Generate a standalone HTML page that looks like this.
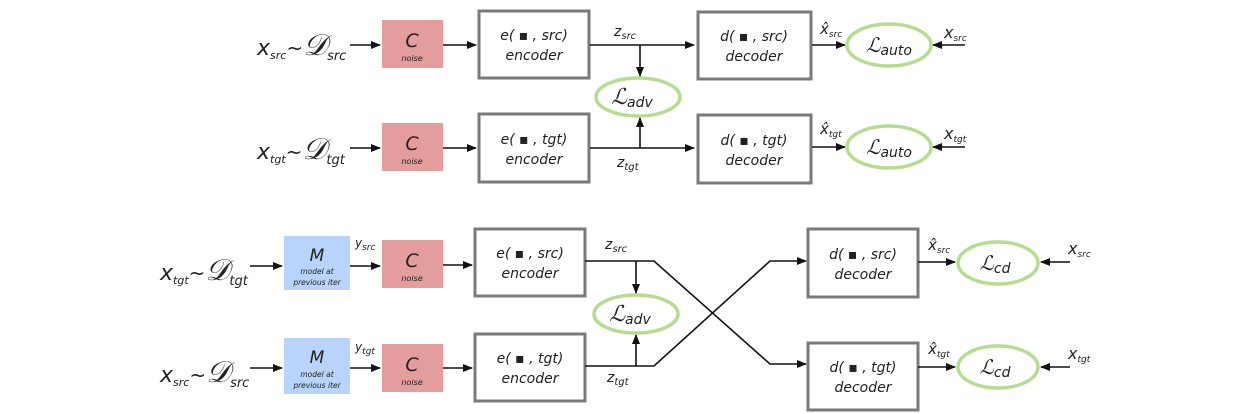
<!DOCTYPE html>
<html><head><meta charset="utf-8"><style>
body{margin:0;background:#fff}
svg{display:block;font-family:"DejaVu Sans","Liberation Sans",sans-serif}
.box{fill:#fff;stroke:#7a7a7a;stroke-width:3}
.cb{fill:#e49d9d}
.mb{fill:#b9d4fb}
.ell{fill:#fff;stroke:#b6dd8f;stroke-width:3.5}
.ln{stroke:#111;stroke-width:1.6;fill:none}
.t{font-style:italic;fill:#222}
</style></head><body>
<svg width="1250" height="414" viewBox="0 0 1250 414">
<defs><marker id="a" markerWidth="10" markerHeight="8" refX="9" refY="4" orient="auto" markerUnits="userSpaceOnUse"><path d="M0,0L10,4L0,8z" fill="#111"/></marker></defs>

<!-- TOP ROW 1 -->
<g>
<text x="257" y="55" font-size="22" class="t" font-style="normal">x<tspan font-size="11" dy="4">src</tspan><tspan dy="-4" font-size="20">~</tspan><tspan font-family="Liberation Serif" font-size="30">𝒟</tspan><tspan font-size="13" dy="5">src</tspan></text>
<line class="ln" x1="350" y1="45" x2="380" y2="45" marker-end="url(#a)"/>
<rect class="cb" x="382" y="20" width="61" height="48"/>
<text x="412" y="47" font-size="19" text-anchor="middle" class="t">C</text><text x="412" y="61" font-size="8" text-anchor="middle" class="t">noise</text>
<line class="ln" x1="443" y1="45" x2="476" y2="45" marker-end="url(#a)"/>
<rect class="box" x="479" y="11" width="110" height="67"/>
<text x="534" y="40" font-size="14" text-anchor="middle" class="t">e( ▪ , src)</text><text x="534" y="60" font-size="14" text-anchor="middle" class="t">encoder</text>
<line class="ln" x1="590" y1="45" x2="694" y2="45" marker-end="url(#a)"/>
<text x="614" y="36" font-size="14" class="t">z<tspan font-size="10" dy="3">src</tspan></text>
<rect class="box" x="698" y="12" width="113" height="67"/>
<text x="754" y="41" font-size="14" text-anchor="middle" class="t">d( ▪ , src)</text><text x="754" y="61" font-size="14" text-anchor="middle" class="t">decoder</text>
<line class="ln" x1="812" y1="45" x2="845" y2="45" marker-end="url(#a)"/>
<text x="820" y="34" font-size="15" class="t">x̂<tspan font-size="9" dy="3">src</tspan></text>
<ellipse class="ell" cx="889" cy="45" rx="42" ry="21"/>
<text x="889" y="52" font-size="20" text-anchor="middle" class="t" font-family="Liberation Serif">ℒ<tspan font-family="DejaVu Sans" font-size="14" dy="3">auto</tspan></text>
<line class="ln" x1="965" y1="45" x2="933" y2="45" marker-end="url(#a)"/>
<text x="944" y="38" font-size="16" class="t" font-style="normal">x<tspan font-size="9" dy="3">src</tspan></text>
</g>

<ellipse class="ell" cx="638" cy="97" rx="42" ry="19"/>
<text x="632" y="104" font-size="22" text-anchor="middle" class="t" font-family="Liberation Serif">ℒ<tspan font-family="DejaVu Sans" font-size="14" dy="3">adv</tspan></text>
<line class="ln" x1="640" y1="45" x2="640" y2="76" marker-end="url(#a)"/>
<line class="ln" x1="640" y1="148" x2="640" y2="118" marker-end="url(#a)"/>

<!-- TOP ROW 2 -->
<g>
<text x="257" y="159" font-size="22" class="t" font-style="normal">x<tspan font-size="11" dy="4">tgt</tspan><tspan dy="-4" font-size="20">~</tspan><tspan font-family="Liberation Serif" font-size="30">𝒟</tspan><tspan font-size="13" dy="5">tgt</tspan></text>
<line class="ln" x1="350" y1="148" x2="380" y2="148" marker-end="url(#a)"/>
<rect class="cb" x="382" y="123" width="61" height="48"/>
<text x="412" y="150" font-size="19" text-anchor="middle" class="t">C</text><text x="412" y="164" font-size="8" text-anchor="middle" class="t">noise</text>
<line class="ln" x1="443" y1="148" x2="476" y2="148" marker-end="url(#a)"/>
<rect class="box" x="479" y="114" width="110" height="68"/>
<text x="534" y="144" font-size="14" text-anchor="middle" class="t">e( ▪ , tgt)</text><text x="534" y="164" font-size="14" text-anchor="middle" class="t">encoder</text>
<line class="ln" x1="590" y1="148" x2="694" y2="148" marker-end="url(#a)"/>
<text x="617" y="167" font-size="14" class="t">z<tspan font-size="10" dy="3">tgt</tspan></text>
<rect class="box" x="698" y="115" width="113" height="68"/>
<text x="754" y="145" font-size="14" text-anchor="middle" class="t">d( ▪ , tgt)</text><text x="754" y="165" font-size="14" text-anchor="middle" class="t">decoder</text>
<line class="ln" x1="812" y1="147" x2="845" y2="147" marker-end="url(#a)"/>
<text x="820" y="134" font-size="15" class="t">x̂<tspan font-size="9" dy="3">tgt</tspan></text>
<ellipse class="ell" cx="889" cy="147" rx="42" ry="21"/>
<text x="889" y="154" font-size="20" text-anchor="middle" class="t" font-family="Liberation Serif">ℒ<tspan font-family="DejaVu Sans" font-size="14" dy="3">auto</tspan></text>
<line class="ln" x1="965" y1="147" x2="933" y2="147" marker-end="url(#a)"/>
<text x="944" y="139" font-size="16" class="t" font-style="normal">x<tspan font-size="9" dy="3">tgt</tspan></text>
</g>

<!-- BOTTOM ROW 1 -->
<g>
<text x="160" y="280" font-size="22" class="t" font-style="normal">x<tspan font-size="11" dy="4">tgt</tspan><tspan dy="-4" font-size="20">~</tspan><tspan font-family="Liberation Serif" font-size="30">𝒟</tspan><tspan font-size="13" dy="5">tgt</tspan></text>
<line class="ln" x1="250" y1="266" x2="282" y2="266" marker-end="url(#a)"/>
<rect class="mb" x="284" y="236" width="66" height="54"/>
<text x="317" y="261" font-size="17" text-anchor="middle" class="t">M</text><text x="317" y="274" font-size="7.5" text-anchor="middle" class="t">model at</text><text x="317" y="285" font-size="7.5" text-anchor="middle" class="t">previous iter</text>
<text x="355" y="247" font-size="12" class="t">y<tspan font-size="9" dy="3">src</tspan></text>
<line class="ln" x1="350" y1="266" x2="380" y2="266" marker-end="url(#a)"/>
<rect class="cb" x="382" y="240" width="61" height="48"/>
<text x="412" y="267" font-size="19" text-anchor="middle" class="t">C</text><text x="412" y="281" font-size="8" text-anchor="middle" class="t">noise</text>
<line class="ln" x1="443" y1="265" x2="472" y2="265" marker-end="url(#a)"/>
<rect class="box" x="475" y="229" width="110" height="67"/>
<text x="530" y="258" font-size="14" text-anchor="middle" class="t">e( ▪ , src)</text><text x="530" y="278" font-size="14" text-anchor="middle" class="t">encoder</text>
<text x="605" y="249" font-size="14" class="t">z<tspan font-size="10" dy="3">src</tspan></text>
<rect class="box" x="808" y="229" width="110" height="68"/>
<text x="863" y="259" font-size="14" text-anchor="middle" class="t">d( ▪ , src)</text><text x="863" y="279" font-size="14" text-anchor="middle" class="t">decoder</text>
<line class="ln" x1="918" y1="262" x2="955" y2="262" marker-end="url(#a)"/>
<text x="928" y="250" font-size="15" class="t">x̂<tspan font-size="9" dy="3">src</tspan></text>
<ellipse class="ell" cx="998" cy="263" rx="40" ry="21"/>
<text x="995" y="270" font-size="20" text-anchor="middle" class="t" font-family="Liberation Serif">ℒ<tspan font-family="DejaVu Sans" font-size="14" dy="3">cd</tspan></text>
<line class="ln" x1="1070" y1="262" x2="1041" y2="262" marker-end="url(#a)"/>
<text x="1068" y="254" font-size="16" class="t" font-style="normal">x<tspan font-size="9" dy="3">src</tspan></text>
</g>

<!-- BOTTOM ROW 2 -->
<g>
<text x="160" y="382" font-size="22" class="t" font-style="normal">x<tspan font-size="11" dy="4">src</tspan><tspan dy="-4" font-size="20">~</tspan><tspan font-family="Liberation Serif" font-size="30">𝒟</tspan><tspan font-size="13" dy="5">src</tspan></text>
<line class="ln" x1="250" y1="368" x2="282" y2="368" marker-end="url(#a)"/>
<rect class="mb" x="284" y="338" width="66" height="56"/>
<text x="317" y="363" font-size="17" text-anchor="middle" class="t">M</text><text x="317" y="377" font-size="7.5" text-anchor="middle" class="t">model at</text><text x="317" y="388" font-size="7.5" text-anchor="middle" class="t">previous iter</text>
<text x="355" y="351" font-size="12" class="t">y<tspan font-size="9" dy="3">tgt</tspan></text>
<line class="ln" x1="350" y1="368" x2="380" y2="368" marker-end="url(#a)"/>
<rect class="cb" x="382" y="344" width="61" height="48"/>
<text x="412" y="371" font-size="19" text-anchor="middle" class="t">C</text><text x="412" y="385" font-size="8" text-anchor="middle" class="t">noise</text>
<line class="ln" x1="443" y1="368" x2="472" y2="368" marker-end="url(#a)"/>
<rect class="box" x="475" y="334" width="110" height="67"/>
<text x="530" y="363" font-size="14" text-anchor="middle" class="t">e( ▪ , tgt)</text><text x="530" y="383" font-size="14" text-anchor="middle" class="t">encoder</text>
<text x="607" y="382" font-size="14" class="t">z<tspan font-size="10" dy="3">tgt</tspan></text>
<rect class="box" x="808" y="343" width="110" height="67"/>
<text x="863" y="372" font-size="14" text-anchor="middle" class="t">d( ▪ , tgt)</text><text x="863" y="392" font-size="14" text-anchor="middle" class="t">decoder</text>
<line class="ln" x1="918" y1="367" x2="955" y2="367" marker-end="url(#a)"/>
<text x="928" y="354" font-size="15" class="t">x̂<tspan font-size="9" dy="3">tgt</tspan></text>
<ellipse class="ell" cx="998" cy="367" rx="40" ry="21"/>
<text x="995" y="374" font-size="20" text-anchor="middle" class="t" font-family="Liberation Serif">ℒ<tspan font-family="DejaVu Sans" font-size="14" dy="3">cd</tspan></text>
<line class="ln" x1="1070" y1="367" x2="1041" y2="367" marker-end="url(#a)"/>
<text x="1068" y="359" font-size="16" class="t" font-style="normal">x<tspan font-size="9" dy="3">tgt</tspan></text>
</g>

<!-- cross connections -->
<polyline class="ln" points="585,261 631,261 654,261 770,364 806,364" marker-end="url(#a)"/>
<polyline class="ln" points="585,366 654,366 770,261 806,261" marker-end="url(#a)"/>
<ellipse class="ell" cx="636" cy="314" rx="42" ry="19"/>
<text x="630" y="321" font-size="22" text-anchor="middle" class="t" font-family="Liberation Serif">ℒ<tspan font-family="DejaVu Sans" font-size="14" dy="3">adv</tspan></text>
<line class="ln" x1="636" y1="261" x2="636" y2="293" marker-end="url(#a)"/>
<line class="ln" x1="636" y1="366" x2="636" y2="335" marker-end="url(#a)"/>
</svg>
</body></html>
